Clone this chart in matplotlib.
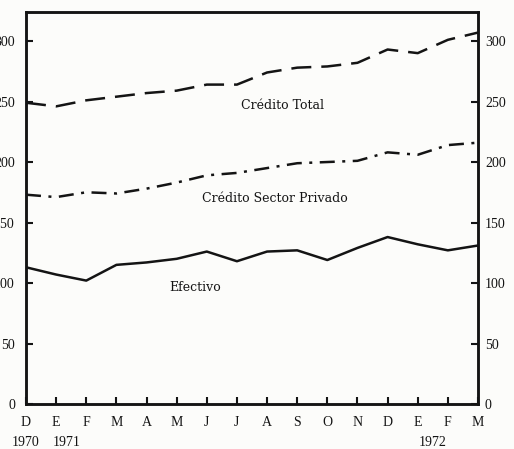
import matplotlib
matplotlib.use("Agg")
import matplotlib.pyplot as plt

months = ["D", "E", "F", "M", "A", "M", "J", "J", "A", "S", "O", "N", "D", "E", "F", "M"]
credito_total = [249, 246, 251, 254, 257, 259, 264, 264, 274, 278, 279, 282, 293, 290, 301, 307]
credito_privado = [173, 171, 175, 174, 178, 183, 189, 191, 195, 199, 200, 201, 208, 206, 214, 216]
efectivo = [113, 107, 102, 115, 117, 120, 126, 118, 126, 127, 119, 129, 138, 132, 127, 131]
yticks = [0, 50, 100, 150, 200, 250, 300]
years = [(0, "1970"), (1.35, "1971"), (13.5, "1972")]

plt.rcParams["font.family"] = ["Liberation Serif", "DejaVu Serif"]

fig = plt.figure(figsize=(5.14, 4.49), dpi=100)
fig.patch.set_facecolor("#fcfcfa")
ax = fig.add_axes([26 / 514, 45 / 449, 452 / 514, 392 / 449])
ax.set_facecolor("#fcfcfa")

x = list(range(len(months)))
ink = "#141414"
ax.plot(x, credito_total, color=ink, lw=1.8, dashes=(8, 4))
ax.plot(x, credito_privado, color=ink, lw=1.8, dashes=(6, 3, 1.2, 3))
ax.plot(x, efectivo, color=ink, lw=1.8)

ax.set_xlim(0, 15)
ax.set_ylim(0, 324)
ax.set_xticks(x)
ax.set_xticklabels(months, fontsize=10)
ax.set_yticks(yticks)
ax.set_yticklabels([str(v) for v in yticks], fontsize=10)
ax.tick_params(direction="in", length=5, width=1.5, colors=ink)
ax.tick_params(axis="x", pad=9)
ax.tick_params(axis="y", pad=8)
for s in ax.spines.values():
    s.set_linewidth(1.8)
    s.set_color(ink)

ax2 = ax.twinx()
ax2.set_ylim(ax.get_ylim())
ax2.set_yticks(yticks)
ax2.set_yticklabels([str(v) for v in yticks], fontsize=10)
ax2.tick_params(direction="in", length=5, width=1.5, colors=ink, pad=5)
for s in ax2.spines.values():
    s.set_linewidth(1.8)
    s.set_color(ink)

for xp, lab in years:
    ax.text(xp, -0.097, lab, transform=ax.get_xaxis_transform(), ha="center", va="center",
            fontsize=10, color=ink)

ax.text(8.5, 247, "Crédito Total", ha="center", va="center", fontsize=9,
        family="DejaVu Serif", color=ink)
ax.text(8.26, 170, "Crédito Sector Privado", ha="center", va="center", fontsize=9,
        family="DejaVu Serif", color=ink)
ax.text(5.6, 96, "Efectivo", ha="center", va="center", fontsize=9,
        family="DejaVu Serif", color=ink)

fig.savefig("out.png", dpi=100, facecolor=fig.get_facecolor())
